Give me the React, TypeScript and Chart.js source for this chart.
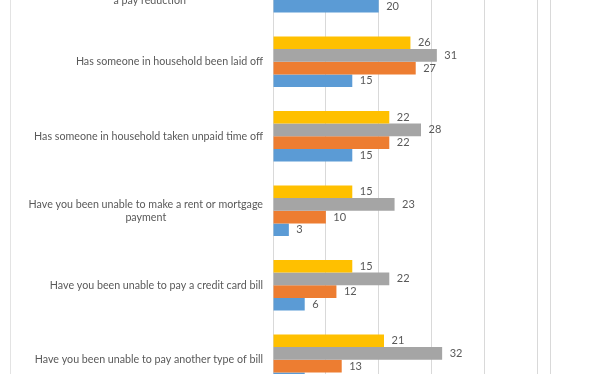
import React, { useEffect, useRef } from "react";
import { Chart, registerables } from "chart.js";

Chart.register(...registerables);

const categories: (string | string[])[] = [
  ["Has someone in household had their work hours", "reduced or been asked to take", "a pay reduction"],
  "Has someone in household been laid off",
  "Has someone in household taken unpaid time off",
  ["Have you been unable to make a rent or mortgage", "payment"],
  "Have you been unable to pay a credit card bill",
  "Have you been unable to pay another type of bill",
];

const seriesNames = ["Wave 4", "Wave 3", "Wave 2", "Wave 1"];
const yellowValues = [28, 26, 22, 15, 15, 21];
const grayValues = [35, 31, 28, 23, 22, 32];
const orangeValues = [27, 27, 22, 10, 12, 13];
const blueValues = [20, 15, 15, 3, 6, 6];
const gridTicks = [0, 10, 20, 30, 40, 50, 52.5];

const seriesColors = ["#FFC000", "#A5A5A5", "#ED7D31", "#5B9BD5"];
const FONT = "10.7px Lato";
const VALUE_FONT = "11px Lato";
const TEXT_COLOR = "#595959";

const labelPlugin = {
  id: "excelLabels",
  afterDatasetsDraw(chart: any) {
    const ctx = chart.ctx;
    const yScale = chart.scales.y;
    const xScale = chart.scales.x;
    ctx.save();
    ctx.font = FONT;
    ctx.fillStyle = TEXT_COLOR;
    ctx.textBaseline = "middle";
    const rightEdge = chart.chartArea.left - 10;
    const lineH = 13.2;
    categories.forEach((cat, i) => {
      const lines = Array.isArray(cat) ? cat : [cat];
      const y0 = yScale.getPixelForValue(i);
      const widths = lines.map((l) => ctx.measureText(l).width);
      const maxW = Math.max(...widths);
      const cx = rightEdge - maxW / 2;
      ctx.textAlign = "center";
      lines.forEach((l, j) => {
        const y = y0 + (j - (lines.length - 1) / 2) * lineH;
        ctx.fillText(l, cx, y);
      });
    });
    ctx.font = VALUE_FONT;
    ctx.textAlign = "left";
    chart.data.datasets.forEach((ds: any, di: number) => {
      const meta = chart.getDatasetMeta(di);
      meta.data.forEach((bar: any, i: number) => {
        const v = ds.data[i];
        const x = xScale.getPixelForValue(v) + 7.5;
        ctx.fillText(String(v), x, bar.y);
      });
    });
    ctx.restore();
  },
};

export default function App() {
  const canvasRef = useRef<HTMLCanvasElement | null>(null);

  useEffect(() => {
    document.body.style.margin = "0";
    const canvas = canvasRef.current;
    if (!canvas) return;
    const valueSets = [yellowValues, grayValues, orangeValues, blueValues];
    const chart = new Chart(canvas, {
      type: "bar",
      data: {
        labels: categories as any,
        datasets: valueSets.map((vals, i) => ({
          label: seriesNames[i],
          data: vals,
          backgroundColor: seriesColors[i],
          borderWidth: 0,
          categoryPercentage: 0.68,
          barPercentage: 1,
        })),
      },
      options: {
        indexAxis: "y",
        animation: false,
        responsive: false,
        maintainAspectRatio: false,
        layout: { padding: { left: 273, right: 61.5, top: 0, bottom: 0 } },
        plugins: {
          legend: { display: false },
          tooltip: { enabled: false },
        },
        scales: {
          x: {
            type: "linear",
            min: 0,
            max: 52.5,
            position: "bottom",
            afterBuildTicks: (axis: any) => {
              axis.ticks = gridTicks.map((v) => ({ value: v }));
            },
            ticks: { display: false },
            border: { display: false },
            grid: { color: "#D9D9D9", lineWidth: 1, drawTicks: false },
          },
          y: {
            display: false,
          },
        },
      },
      plugins: [labelPlugin],
    });
    return () => chart.destroy();
  }, []);

  return (
    <div
      style={{
        position: "fixed",
        left: 0,
        top: 0,
        width: 612,
        height: 374,
        overflow: "hidden",
        background: "#ffffff",
      }}
    >
      <div
        style={{
          position: "absolute",
          left: 10,
          top: 0,
          width: 1,
          height: 374,
          background: "#E3E3E3",
        }}
      />
      <div style={{ position: "absolute", left: 0, top: -50, width: 612, height: 447 }}>
        <canvas ref={canvasRef} width={612} height={447} />
      </div>
    </div>
  );
}
